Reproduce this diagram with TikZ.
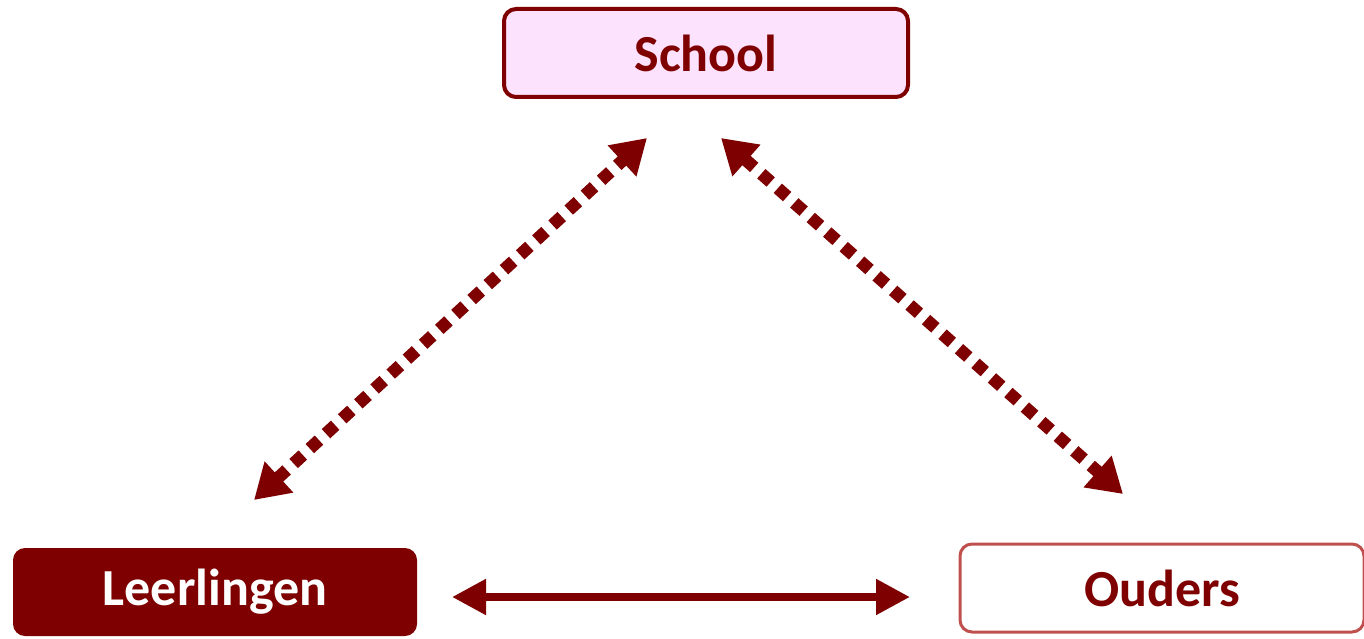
\documentclass[tikz,border=0pt]{standalone}
\usepackage{fontspec}
\setmainfont{Carlito}
\usetikzlibrary{arrows.meta}

\definecolor{maroon}{HTML}{7F0000}
\definecolor{roseline}{HTML}{C0504D}
\definecolor{pinkfill}{HTML}{FCE2FC}

\tikzset{
  box/.style={rectangle, rounded corners=12pt, minimum width=404pt, minimum height=88pt,
    font=\fontsize{52}{60}\selectfont\bfseries, inner sep=0pt},
  dotarrow/.style={maroon, line width=12.5pt, dash pattern=on 12.5pt off 9.5pt,
    {Triangle[length=34pt, width=40pt]}-{Triangle[length=34pt, width=40pt]}},
  solidarrow/.style={maroon, line width=8pt,
    {Triangle[length=34pt, width=34pt]}-{Triangle[length=34pt, width=34pt]}}
}

\begin{document}
\begin{tikzpicture}[x=1pt, y=-1pt]
    \useasboundingbox (0, 0) rectangle (1364, 639);
    \node[box, draw=maroon, line width=4pt, fill=pinkfill, text=maroon] (school) at (706, 53) {School};
    \node[box, fill=maroon, text=white] (leerlingen) at (215, 592) {Leerlingen};
    \node[box, draw=roseline, line width=3pt, fill=white, text=maroon] (ouders) at (1162, 588) {Ouders};
	\coordinate (sl) at (647, 138);
	\coordinate (sr) at (721, 138);
	\coordinate (lu) at (254, 500);
	\coordinate (ou) at (1123, 494);
	\coordinate (le) at (452, 597);
	\coordinate (or) at (910, 597);
	\draw[dotarrow] (lu) -- (sl);
	\draw[dotarrow] (sr) -- (ou);
	\draw[solidarrow] (le) -- (or);
\end{tikzpicture}
\end{document}
